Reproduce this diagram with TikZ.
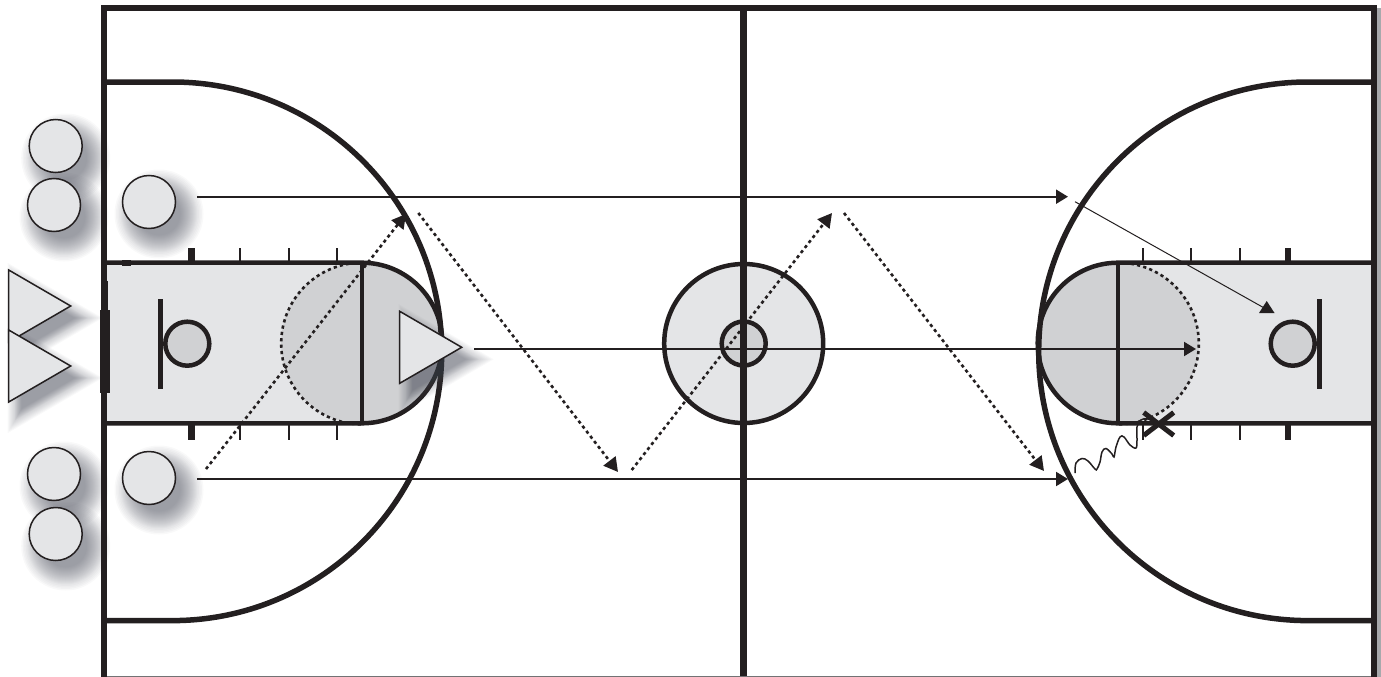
\documentclass[tikz,border=0pt]{standalone}
\usetikzlibrary{arrows.meta,shapes.geometric,shapes.misc}
\definecolor{ink}{HTML}{231F20}
\definecolor{lanegrey}{HTML}{E4E5E7}
\definecolor{keygrey}{HTML}{D0D1D3}
\definecolor{edgegrey}{HTML}{A7A9AC}
\definecolor{shadowc}{HTML}{4A4D5A}
\newcommand\softdisc[2]{%
  \foreach \d in {18,16.5,15,13.5,12,11,10,9,8,7,6,5,4,3,2,1,0,-1,-2,-3,-4,-5}{%
    \fill[softlayer] ({#1+10},{#2+12}) circle[radius=26.5+\d];}}
\newcommand\softtri[2]{%
  \foreach \d in {11,10,9,8,7,6,5,4,3.5,3,2.5,2,1.5,1,.5,0,-.5,-1,-1.5,-2,-2.5,-3}{%
    \pgfmathsetmacro\s{1+\d/20.7}%
    \fill[softlayer] ({#1-41.3+10+41.3*\s},{#2+12}) -- ({#1-41.3+10-20.7*\s},{#2+12-36*\s}) -- ({#1-41.3+10-20.7*\s},{#2+12+36*\s}) -- cycle;}}
\tikzset{
  softlayer/.style={shadowc,opacity=.036},
  player/.style={circle,draw=ink,fill=lanegrey,line width=1.5pt,minimum size=53pt,inner sep=0pt,outer sep=0pt},
  defender/.style={isosceles triangle,isosceles triangle apex angle=60,isosceles triangle stretches=true,
      draw=ink,fill=lanegrey,line width=1.5pt,minimum width=72pt,minimum height=62pt,inner sep=0pt,outer sep=0pt,
      anchor=apex},
  hoop/.style={circle,draw=ink,fill=keygrey,line width=4.5pt,minimum size=44pt,inner sep=0pt,outer sep=0pt},
  courtline/.style={draw=ink,line width=5.5pt},
  frameline/.style={draw=ink,line width=6pt},
  laneline/.style={draw=ink,line width=4.5pt},
  tickthin/.style={draw=ink,line width=2pt},
  tickthick/.style={draw=ink,line width=6.5pt},
  board/.style={draw=ink,line width=5pt},
  dashedarc/.style={draw=ink,line width=2.6pt,dash pattern=on 3.2pt off 3.2pt},
  run/.style={draw=ink,line width=2pt,-{Triangle[length=12pt,width=14pt]}},
  pass/.style={draw=ink,line width=2.6pt,dash pattern=on 3.2pt off 3.2pt,-{Triangle[length=14pt,width=15pt]}},
  thinrun/.style={draw=ink,line width=1pt},
  dribble/.style={draw=ink,line width=1.5pt},
  xmark/.style={cross out,draw=ink,line width=5pt,minimum width=30pt,minimum height=23pt,inner sep=0pt,outer sep=0pt}
}
\begin{document}
\begin{tikzpicture}[x=1pt,y=-1pt]
\useasboundingbox (0,0) rectangle (1381,677);
% edge strip on the right
\fill[edgegrey] (1377,8) rectangle (1381,677);
% shadows of the players outside the court
\softdisc{55.7}{146}
\softdisc{54}{205}
\softdisc{149}{202}
\softdisc{54}{474}
\softdisc{149}{478}
\softdisc{55.7}{534}
\softtri{70.7}{306}
\softtri{70.7}{366}
% players outside the court
\node[player] (p1) at (55.7,146) {};
\node[player] (p2) at (54,205) {};
\node[player] (p3) at (149,202) {};
\node[player] (p4) at (54,474) {};
\node[player] (p5) at (149,478) {};
\node[player] (p6) at (55.7,534) {};
\node[defender] (t1) at (70.7,306) {};
\node[defender] (t2) at (70.7,366) {};
% lanes
\fill[lanegrey] (107,262.7) rectangle (362,423.3);
\fill[lanegrey] (1118,262.7) rectangle (1372,423.3);
\fill[keygrey] (362,343) circle[radius=80.8];
\fill[keygrey] (1118,343) circle[radius=80.8];
% centre circle
\node[circle,draw=ink,fill=lanegrey,line width=4.5pt,minimum size=159pt,inner sep=0pt,outer sep=0pt] (cc) at (743.7,343.5) {};
\node[hoop] (ci) at (743.7,343.5) {};
% lane lines
\draw[laneline] (104,262.7) -- (362,262.7) arc[start angle=-90,end angle=90,radius=80.3] -- (104,423.3);
\draw[laneline] (1374,262.7) -- (1118,262.7) arc[start angle=-90,end angle=-270,radius=80.3] -- (1374,423.3);
\draw[laneline] (362,262.7) -- (362,423.3);
\draw[laneline] (1118,262.7) -- (1118,423.3);
\draw[dashedarc] (362,262.7) arc[start angle=-90,end angle=-270,radius=80.8];
\draw[dashedarc] (1118,262.7) arc[start angle=-90,end angle=90,radius=80.8];
% ticks
\foreach \x in {240,289,337,1143,1191,1240}{
  \draw[tickthin] (\x,248) -- (\x,262.7);
  \draw[tickthin] (\x,423.3) -- (\x,440);
}
\foreach \x in {191.7,1288}{
  \draw[tickthick] (\x,248) -- (\x,262.7);
  \draw[tickthick] (\x,423.3) -- (\x,440);
}
\draw[tickthick] (122,263) -- (131,263);
% hoops and backboards
\draw[board] (160.3,299) -- (160.3,389);
\draw[board] (1319,299) -- (1319,389);
\node[hoop] (hl) at (187.3,343.7) {};
\node[hoop] (hr) at (1292.7,343.7) {};
% three-point arcs
\draw[courtline] (104,82) -- (172.4,82) arc[start angle=-90,end angle=90,radius=269.3] -- (104,620.6);
\draw[courtline] (1374,82) -- (1308,82) arc[start angle=-90,end angle=-270,radius=269.3] -- (1374,620.6);
% frame
\draw[frameline] (104,677) -- (104,8.5) -- (1374,8.5) -- (1374,677);
\draw[draw=ink,line width=7pt] (743.7,8.5) -- (743.7,677);
\draw[draw=edgegrey!60!ink,line width=1pt] (107,676.5) -- (1371,676.5);
\fill[ink] (100,310) rectangle (110,393);
\fill[ink] (101,281) rectangle (108,310);
\fill[ink] (100.7,488) rectangle (107.3,553);
% on-court defender
\softtri{461.7}{347.3}
\node[defender] (t3) at (461.7,347.3) {};
% connectors
\coordinate (r1a) at (197,196.7);
\coordinate (r1b) at (1068,196.7);
\coordinate (r2a) at (474,349);
\coordinate (r2b) at (1196,349);
\coordinate (r3a) at (197,479);
\coordinate (r3b) at (1068,479);
\draw[run] (r1a) -- (r1b);
\draw[run] (r2a) -- (r2b);
\draw[run] (r3a) -- (r3b);
\coordinate (d1a) at (206,469);
\coordinate (d1b) at (406,214);
\coordinate (d2a) at (418.3,213);
\coordinate (d2b) at (618,472);
\coordinate (d3a) at (631.7,470);
\coordinate (d3b) at (832,213);
\coordinate (d4a) at (844,213);
\coordinate (d4b) at (1044,471);
\draw[pass] (d1a) -- (d1b);
\draw[pass] (d2a) -- (d2b);
\draw[pass] (d3a) -- (d3b);
\draw[pass] (d4a) -- (d4b);
\coordinate (s1a) at (1075,201.7);
\coordinate (s1b) at (1266,309);
\draw[thinrun] (s1a) -- (s1b);
\fill[ink] (1266.7,301) -- (1274.5,313) -- (1259,313) -- cycle;
% dribble and stop
\node[xmark] (xm) at (1158.7,424) {};
\coordinate (w0) at (1075,473);
\draw[dribble] plot[smooth,tension=.6] coordinates {(w0) (1076,463) (1082,458.5) (1088,461) (1095,469) (1097,469) (1100,462) (1102,452) (1106,448.5) (1112,454) (1114,457) (1116,447) (1120,437) (1124,437) (1130,445) (1136,448) (1137,440) (1137,427) (1141,420) (1148,419) (xm.center)};
\end{tikzpicture}
\end{document}
